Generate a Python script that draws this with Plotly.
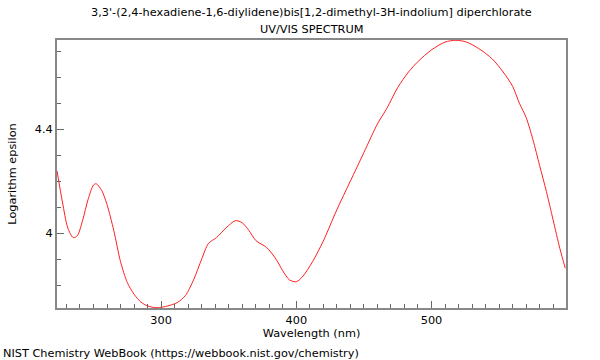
import plotly.graph_objects as go

wavelength = [223, 227, 231, 235, 238, 242, 246, 250, 252, 256, 260, 265, 270, 275, 280,
              285, 290, 297, 305, 312, 318, 324, 330, 335, 341, 348, 355, 360, 365, 370,
              378, 385, 390, 395, 400, 405, 412, 420, 430, 440, 450, 460, 467, 475, 483,
              490, 500, 510, 518, 526, 535, 545, 553, 560, 565, 570, 575, 580, 585, 590,
              595, 599]
log_eps = [4.24, 4.12, 4.02, 3.983, 3.99, 4.05, 4.13, 4.185, 4.19, 4.165, 4.11, 4.01, 3.89,
           3.81, 3.765, 3.735, 3.72, 3.713, 3.72, 3.733, 3.76, 3.82, 3.9, 3.96, 3.983, 4.02,
           4.048, 4.04, 4.01, 3.972, 3.945, 3.9, 3.855, 3.82, 3.813, 3.835, 3.89, 3.97, 4.09,
           4.2, 4.31, 4.42, 4.48, 4.56, 4.62, 4.66, 4.705, 4.735, 4.742, 4.735, 4.71, 4.67,
           4.62, 4.565, 4.5, 4.445, 4.36, 4.26, 4.16, 4.05, 3.94, 3.865]

x_ticks = [300, 400, 500]
y_ticks = [4, 4.4]
y_tick_text = ["4", "4.4"]

title_line1 = "3,3'-(2,4-hexadiene-1,6-diylidene)bis[1,2-dimethyl-3H-indolium] diperchlorate"
title_line2 = "UV/VIS SPECTRUM"
footer = "NIST Chemistry WebBook (https://webbook.nist.gov/chemistry)"

fig = go.Figure()
fig.add_trace(go.Scatter(x=wavelength, y=log_eps, mode="lines",
                         line=dict(color="#ff2020", width=1, shape="spline", smoothing=0.8),
                         hoverinfo="skip", showlegend=False))

FS = 11.3
font = dict(family="DejaVu Sans", size=FS, color="#000000")
fig.update_layout(
    width=600, height=360,
    margin=dict(l=57, r=34, t=40, b=52),
    paper_bgcolor="white", plot_bgcolor="white",
    font=font,
    xaxis=dict(range=[223, 599.5], tickvals=x_ticks, ticks="inside", ticklen=7,
               tickcolor="#666", showline=True, linecolor="#888", linewidth=2, mirror=True,
               showgrid=False, zeroline=False,
               minor=dict(dtick=10, tick0=300, ticks="inside", ticklen=4, tickcolor="#666", showgrid=False),
               title=dict(text="Wavelength (nm)", standoff=4, font=font)),
    yaxis=dict(range=[3.712, 4.743], tickvals=y_ticks, ticktext=y_tick_text, ticks="inside", ticklen=7,
               tickcolor="#666", showline=True, linecolor="#888", linewidth=2, mirror=True,
               showgrid=False, zeroline=False,
               minor=dict(dtick=0.1, tick0=4, ticks="inside", ticklen=4, tickcolor="#666", showgrid=False),
               title=dict(text="Logarithm epsilon", standoff=16, font=font)),
    annotations=[
        dict(text=title_line1, x=0.5, xref="paper", xanchor="center",
             y=1, yref="paper", yanchor="middle", yshift=28, showarrow=False, font=font),
        dict(text=title_line2, x=0.5, xref="paper", xanchor="center",
             y=1, yref="paper", yanchor="middle", yshift=11, showarrow=False, font=font),
        dict(text=footer, x=0, xref="paper", xanchor="left", xshift=-56,
             y=0, yref="paper", yanchor="top", yshift=-37, showarrow=False, font=font),
    ],
)

fig.write_html("out.html")
